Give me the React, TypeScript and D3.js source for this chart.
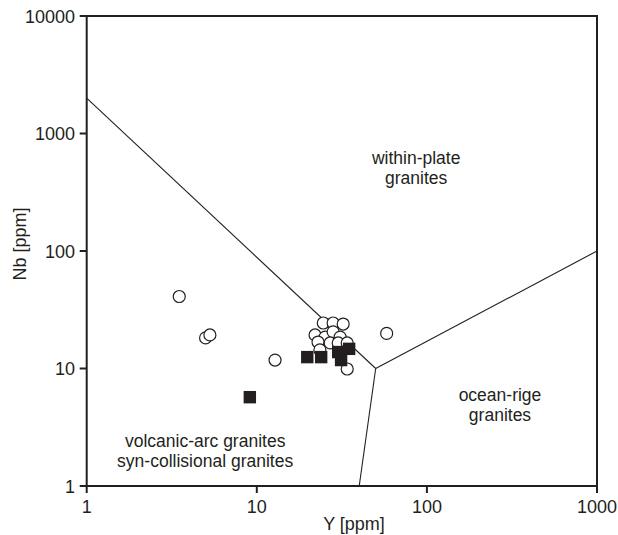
import React from "react";
import * as d3 from "d3";

// Discrimination boundaries (Y, Nb) in ppm
const boundaryWPG: [number, number][] = [[1, 2000], [50, 10]];
const boundaryORG_upper: [number, number][] = [[50, 10], [1000, 100]];
const boundaryORG_lower: [number, number][] = [[50, 10], [40, 1]];

// Sample series: Y [ppm], Nb [ppm]
const circleY = [3.5, 5.0, 5.3, 12.8, 58, 34, 24.6, 28.1, 32.2, 22.0, 25.2, 28.1, 30.9, 22.9, 27.0, 30.1, 34.0, 23.5];
const circleNb = [41, 18.2, 19.3, 11.8, 19.9, 9.9, 24.4, 24.4, 23.9, 19.3, 18.5, 20.5, 18.5, 16.8, 16.5, 16.5, 16.5, 14.4];
const squareY = [9.1, 19.8, 23.9, 30.1, 34.9, 31.3];
const squareNb = [5.7, 12.5, 12.5, 13.8, 14.7, 11.8];

const xTicks = [1, 10, 100, 1000];
const yTicks = [1, 10, 100, 1000, 10000];

// Field names, anchored at (Y, Nb) of the first line's baseline centre
const fieldLabels = [
  { lines: ["within-plate", "granites"], x: 86.5, y: 550 },
  { lines: ["ocean-rige", "granites"], x: 269, y: 5.3 },
  { lines: ["volcanic-arc granites", "syn-collisional granites"], x: 4.97, y: 2.15 },
];

export default function App() {
  const W = 618;
  const H = 535;
  const left = 86.7, right = 597, top = 16, bottom = 486;
  const x = d3.scaleLog().domain([1, 1000]).range([left, right]);
  const y = d3.scaleLog().domain([1, 10000]).range([bottom, top]);
  const line = d3.line<[number, number]>().x((d) => x(d[0])).y((d) => y(d[1]));
  const ink = "#231f20";
  const font = "'Liberation Sans', Arial, Helvetica, sans-serif";
  const fs = 18;
  const fieldFs = 17.5;

  return (
    <svg width={W} height={H} style={{ position: "absolute", left: 0, top: 0 }} fontFamily={font}>
      <rect width={W} height={H} fill="#fff" />
      {[boundaryWPG, boundaryORG_upper, boundaryORG_lower].map((b, i) => (
        <path key={i} d={line(b) ?? ""} fill="none" stroke={ink} strokeWidth={1.1} />
      ))}
      {/* frame */}
      <rect x={left} y={top} width={right - left} height={bottom - top} fill="none" stroke={ink} strokeWidth={2} />
      {/* x ticks */}
      {xTicks.map((t) => (
        <g key={"x" + t}>
          <line x1={x(t)} x2={x(t)} y1={bottom} y2={bottom + 7} stroke={ink} strokeWidth={2} />
          <text x={x(t)} y={513} textAnchor="middle" fontSize={fs} fill={ink}>{t}</text>
        </g>
      ))}
      {/* y ticks */}
      {yTicks.map((t) => (
        <g key={"y" + t}>
          <line x1={left - 7} x2={left} y1={y(t)} y2={y(t)} stroke={ink} strokeWidth={2} />
          <text x={75} y={y(t) + 6.5} textAnchor="end" fontSize={fs} fill={ink}>{t}</text>
        </g>
      ))}
      <text x={354} y={530} textAnchor="middle" fontSize={fs} fill={ink}>Y [ppm]</text>
      <text transform={`translate(26,244) rotate(-90)`} textAnchor="middle" fontSize={fs} fill={ink}>Nb [ppm]</text>
      {/* field labels */}
      {fieldLabels.map((f, i) => (
        <text key={i} x={x(f.x)} y={y(f.y)} textAnchor="middle" fontSize={fieldFs} fill={ink}>
          {f.lines.map((l, j) => (
            <tspan key={j} x={x(f.x)} dy={j === 0 ? 0 : 20}>{l}</tspan>
          ))}
        </text>
      ))}
      {/* samples */}
      {circleY.map((v, i) => (
        <circle key={"c" + i} cx={x(v)} cy={y(circleNb[i])} r={6} fill="#fff" stroke={ink} strokeWidth={1.2} />
      ))}
      {squareY.map((v, i) => (
        <rect key={"s" + i} x={x(v) - 6.2} y={y(squareNb[i]) - 6.2} width={12.4} height={12.4} fill={ink} />
      ))}
    </svg>
  );
}
